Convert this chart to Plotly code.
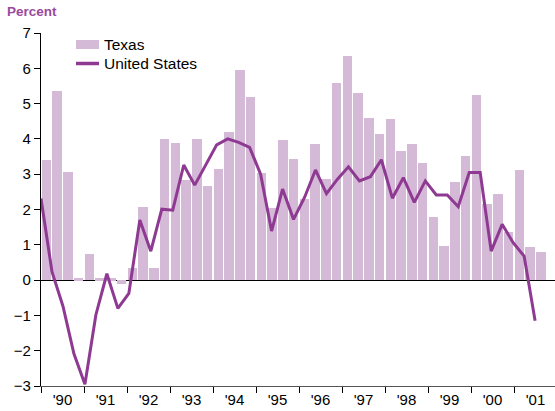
import plotly.graph_objects as go

# Texas quarterly values, 1990Q1 .. 2001Q3 (47 bars)
texas = [3.40, 5.37, 3.05, 0.05, 0.73, 0.05, 0.05, -0.10, 0.35, 2.07, 0.33, 4.01,
         3.88, 2.83, 4.01, 2.67, 3.14, 4.20, 5.95, 5.20, 3.03, 2.05, 3.97, 3.44,
         2.31, 3.85, 2.85, 5.58, 6.34, 5.30, 4.58, 4.13, 4.56, 3.66, 3.85, 3.33,
         1.79, 0.96, 2.79, 3.52, 5.23, 2.15, 2.43, 1.37, 3.11, 0.94, 0.80]

# United States line (46 points)
us = [2.31, 0.24, -0.74, -2.09, -2.95, -0.98, 0.18, -0.80, -0.38, 1.70, 0.82, 2.01,
      1.98, 3.26, 2.69, 3.27, 3.83, 4.00, 3.90, 3.76, 3.00, 1.39, 2.58, 1.72,
      2.34, 3.12, 2.45, 2.86, 3.21, 2.81, 2.93, 3.41, 2.32, 2.90, 2.20, 2.81,
      2.41, 2.41, 2.08, 3.05, 3.05, 0.82, 1.58, 1.06, 0.68, -1.15]

year_labels = ["'90", "'91", "'92", "'93", "'94", "'95", "'96", "'97", "'98", "'99", "'00", "'01"]
y_ticks = [-3, -2, -1, 0, 1, 2, 3, 4, 5, 6, 7]

BAR_COLOR = "#D5BAD8"
LINE_COLOR = "#8E3A92"
TITLE_COLOR = "#9A4A9E"
FONT = "Liberation Sans, Arial, sans-serif"

W, H = 555, 411
L, R, T, B = 41, 555, 33, 386   # plot area in pixels
PW, PH = R - L, B - T
bar_px = 10.75
line_px = 10.98


def px(x):
    return (x - L) / PW


def py(y):
    return (B - y) / PH


n_bar = len(texas)
bar_x = [i + 0.5 for i in range(n_bar)]
line_x = list(range(len(us)))

fig = go.Figure()
fig.add_trace(go.Bar(x=bar_x, y=texas, name="Texas", marker=dict(color=BAR_COLOR, line=dict(width=0)),
                     width=0.88, xaxis="x", yaxis="y", showlegend=False))
fig.add_trace(go.Scatter(x=line_x, y=us, name="United States", mode="lines",
                         line=dict(color=LINE_COLOR, width=3), xaxis="x2", yaxis="y",
                         showlegend=False))

legend_shapes = [
    dict(type="rect", xref="paper", yref="paper", x0=px(76), x1=px(99), y0=py(49), y1=py(40),
         fillcolor=BAR_COLOR, line=dict(width=0), layer="above"),
    dict(type="line", xref="paper", yref="paper", x0=px(76), x1=px(99), y0=py(63.5), y1=py(63.5),
         line=dict(color=LINE_COLOR, width=3.5), layer="above"),
]
legend_texts = [
    dict(text="Texas", xref="paper", yref="paper", x=px(102), y=py(44.5), xanchor="left",
         yanchor="middle", showarrow=False, font=dict(size=15.5, family=FONT, color="black")),
    dict(text="United States", xref="paper", yref="paper", x=px(102), y=py(63.5), xanchor="left",
         yanchor="middle", showarrow=False, font=dict(size=15.5, family=FONT, color="black")),
]

fig.update_layout(
    width=W, height=H,
    margin=dict(l=L, r=W - R, t=T, b=H - B, pad=0, autoexpand=False),
    plot_bgcolor="white", paper_bgcolor="white",
    font=dict(family=FONT, size=15, color="black"),
    showlegend=False,
    bargap=0,
    xaxis=dict(range=[0, PW / bar_px], showgrid=False, zeroline=False,
               showline=True, linecolor="#555555", linewidth=1,
               tickvals=[4 * k + 2 for k in range(len(year_labels))], ticktext=year_labels,
               ticks="", ticklen=0,
               minor=dict(tickvals=[4 * k for k in range(len(year_labels))], ticks="outside",
                          ticklen=6, tickcolor="black", tickwidth=1),
               tickfont=dict(size=15)),
    xaxis2=dict(range=[0, PW / line_px], overlaying="x", visible=False),
    yaxis=dict(range=[-3, 7], tickvals=y_ticks, showgrid=False, zeroline=True,
               zerolinecolor="black", zerolinewidth=1.2,
               showline=True, linecolor="black", linewidth=1.2,
               ticks="outside", ticklen=6, tickcolor="black", tickfont=dict(size=15)),
    shapes=legend_shapes,
    annotations=[dict(text="<b>Percent</b>", xref="paper", yref="paper", x=px(5),
                      y=py(12), xanchor="left", yanchor="middle",
                      showarrow=False, font=dict(size=13.5, color=TITLE_COLOR, family=FONT))]
                + legend_texts,
)

fig.write_html("out.html", config={"displayModeBar": False},
               post_script="document.body.style.margin='0';")
